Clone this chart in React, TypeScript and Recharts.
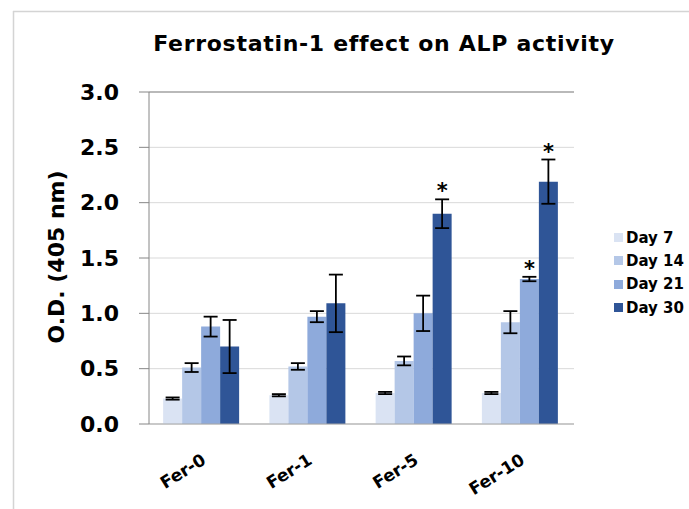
import React from "react";
import {
  BarChart,
  Bar,
  XAxis,
  YAxis,
  CartesianGrid,
  ErrorBar,
  LabelList,
  Legend,
  ReferenceLine,
} from "recharts";

const categories = ["Fer-0", "Fer-1", "Fer-5", "Fer-10"];
const day7 = [0.23, 0.26, 0.28, 0.28];
const err7 = [0.01, 0.01, 0.01, 0.01];
const day14 = [0.51, 0.52, 0.57, 0.92];
const err14 = [0.04, 0.03, 0.04, 0.1];
const day21 = [0.88, 0.97, 1.0, 1.31];
const err21 = [0.09, 0.05, 0.16, 0.02];
const day30 = [0.7, 1.09, 1.9, 2.19];
const err30 = [0.24, 0.26, 0.13, 0.2];
const sig21 = [false, false, false, true];
const sig30 = [false, false, true, true];
const yTicks = [0, 0.5, 1.0, 1.5, 2.0, 2.5, 3.0];

const seriesNames = ["Day 7", "Day 14", "Day 21", "Day 30"];
const seriesColors = ["#dae3f3", "#b4c7e7", "#8eaadb", "#2f5597"];

const data = categories.map((c, i) => ({
  name: c,
  d7: day7[i],
  e7: err7[i],
  d14: day14[i],
  e14: err14[i],
  d21: day21[i],
  e21: err21[i],
  d30: day30[i],
  e30: err30[i],
}));

const FONT = "'DejaVu Sans', sans-serif";

const makeStar = (sig: boolean[], errs: number[]) => (props: any) => {
  const { x, y, width, height, value, index } = props;
  if (!sig[index]) return null;
  const pxPerUnit = Number(height) / Number(value);
  const errTop = Number(y) - errs[index] * pxPerUnit;
  return (
    <text
      x={Number(x) + Number(width) / 2}
      y={errTop - 1}
      textAnchor="middle"
      fontFamily={FONT}
      fontWeight="bold"
      fontSize={21}
      fill="#000"
    >
      *
    </text>
  );
};

const XTick = (props: any) => {
  const { x, y, payload } = props;
  const ax = 5;
  const ay = 39;
  return (
    <g transform={`translate(${x},${y})`}>
      <text
        x={ax}
        y={ay}
        textAnchor="end"
        transform={`rotate(-32 ${ax} ${ay})`}
        fontFamily={FONT}
        fontWeight="bold"
        fontSize={17}
        fill="#000"
      >
        {payload.value}
      </text>
    </g>
  );
};

const LegendContent = () => (
  <div style={{ fontFamily: FONT, fontWeight: "bold", fontSize: 15, color: "#000" }}>
    {seriesNames.map((n, i) => (
      <div
        key={n}
        style={{ display: "flex", alignItems: "center", height: 23.3, whiteSpace: "nowrap" }}
      >
        <span
          style={{
            display: "inline-block",
            width: 9,
            height: 9,
            background: seriesColors[i],
            marginRight: 3,
          }}
        />
        <span>{n}</span>
      </div>
    ))}
  </div>
);

export default function App() {
  return (
    <div
      style={{
        position: "absolute",
        left: 0,
        top: 0,
        width: 689,
        height: 509,
        overflow: "hidden",
        background: "#fff",
      }}
    >
      <svg
        width={689}
        height={509}
        style={{ position: "absolute", left: 0, top: 0, pointerEvents: "none" }}
      >
        <line x1={13.5} y1={11} x2={13.5} y2={509} stroke="#d4d4d4" strokeWidth={1.5} />
        <line x1={13} y1={11.5} x2={689} y2={11.5} stroke="#d4d4d4" strokeWidth={1.5} />
        <text
          x={384}
          y={51}
          textAnchor="middle"
          fontFamily={FONT}
          fontWeight="bold"
          fontSize={22}
          letterSpacing={0.7}
          fill="#000"
        >
          Ferrostatin-1 effect on ALP activity
        </text>
        <text
          x={56}
          y={257}
          textAnchor="middle"
          dominantBaseline="central"
          transform="rotate(-90 56 257)"
          fontFamily={FONT}
          fontWeight="bold"
          fontSize={22}
          fill="#000"
        >
          O.D. (405 nm)
        </text>
      </svg>
      <div style={{ position: "absolute", left: 0, top: 0 }}>
        <BarChart
          width={689}
          height={509}
          data={data}
          margin={{ top: 92, right: 115, left: 0, bottom: 0 }}
          barCategoryGap="13.3%"
          barGap={0}
        >
          <CartesianGrid horizontal vertical={false} stroke="#d9d9d9" />
          <XAxis
            dataKey="name"
            height={85}
            axisLine={{ stroke: "#a6a6a6" }}
            tickLine={false}
            tickSize={0}
            tickMargin={0}
            tick={<XTick />}
            interval={0}
          />
          <YAxis
            width={149}
            domain={[0, 3]}
            ticks={yTicks}
            interval={0}
            tickFormatter={(v: number) => v.toFixed(1)}
            tick={{ fontFamily: FONT, fontWeight: "bold", fontSize: 22, fill: "#000" }}
            tickSize={10}
            tickMargin={20}
            tickLine={{ stroke: "#868686" }}
            axisLine={{ stroke: "#868686" }}
          />
          <YAxis
            yAxisId="r"
            orientation="right"
            width={0}
            domain={[0, 3]}
            tick={false}
            tickLine={false}
            axisLine={{ stroke: "#868686" }}
          />
          <ReferenceLine y={3} stroke="#868686" />
          <Legend
            layout="horizontal"
            align="center"
            verticalAlign="middle"
            content={<LegendContent />}
            wrapperStyle={{ left: 614, top: 226, width: 75 }}
          />
          <Bar dataKey="d7" name="Day 7" fill={seriesColors[0]} isAnimationActive={false}>
            <ErrorBar dataKey="e7" width={7} stroke="#000" strokeWidth={1.8} direction="y" />
          </Bar>
          <Bar dataKey="d14" name="Day 14" fill={seriesColors[1]} isAnimationActive={false}>
            <ErrorBar dataKey="e14" width={7} stroke="#000" strokeWidth={1.8} direction="y" />
          </Bar>
          <Bar dataKey="d21" name="Day 21" fill={seriesColors[2]} isAnimationActive={false}>
            <ErrorBar dataKey="e21" width={7} stroke="#000" strokeWidth={1.8} direction="y" />
            <LabelList dataKey="d21" content={makeStar(sig21, err21)} />
          </Bar>
          <Bar dataKey="d30" name="Day 30" fill={seriesColors[3]} isAnimationActive={false}>
            <ErrorBar dataKey="e30" width={7} stroke="#000" strokeWidth={1.8} direction="y" />
            <LabelList dataKey="d30" content={makeStar(sig30, err30)} />
          </Bar>
        </BarChart>
      </div>
    </div>
  );
}
